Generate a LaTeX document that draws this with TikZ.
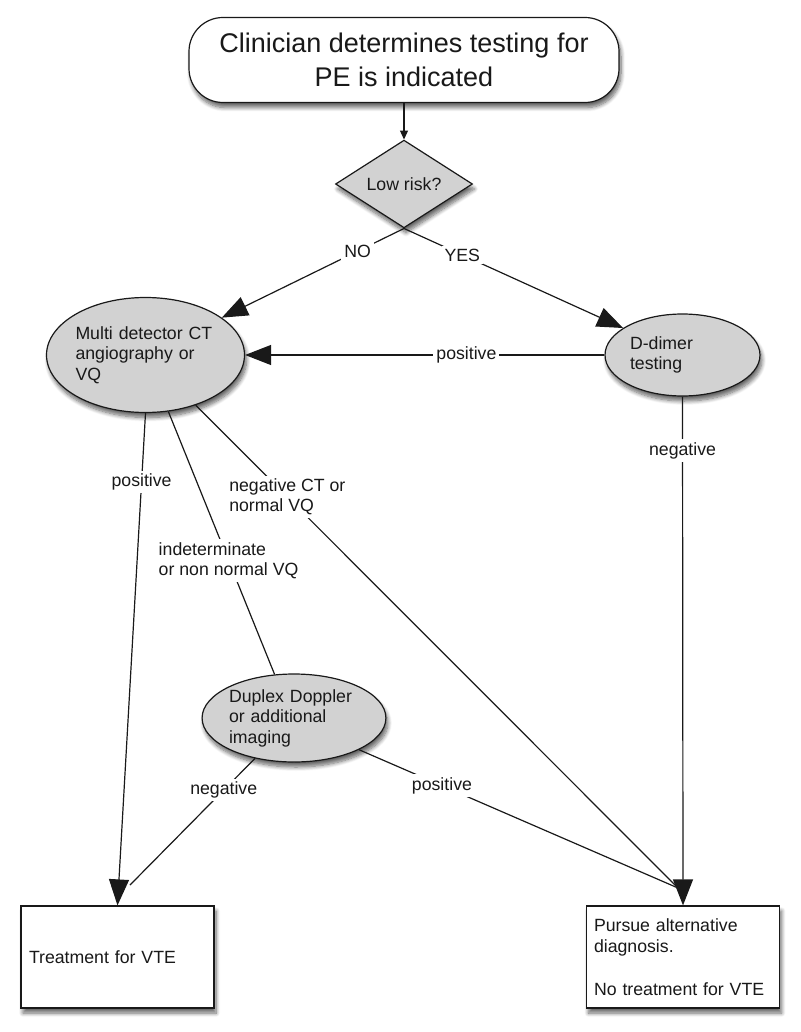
\documentclass[tikz,border=0pt]{standalone}
\usepackage{fontspec}
\setmainfont{Liberation Sans}
\usetikzlibrary{shapes.geometric,shadows.blur,arrows.meta}
\begin{document}
\begin{tikzpicture}[x=1pt,y=-1pt,
  txt/.style={text=black!90},
  shad/.style={blur shadow={shadow xshift=2pt,shadow yshift=-5pt,shadow blur steps=8,shadow opacity=60,shadow blur radius=4pt}},
  oval/.style={ellipse,draw=black!90,line width=1.2pt,fill=gray!35,shad,inner sep=0pt,align=left,txt,font=\fontsize{17.7}{20.5}\selectfont},
  boxnode/.style={rectangle,draw=black!90,line width=1.2pt,fill=white,shad,inner sep=0pt,align=left,txt,font=\fontsize{17.7}{21.5}\selectfont,minimum width=193pt,minimum height=102pt},
  lbl/.style={fill=white,inner sep=3pt,align=left,txt,font=\fontsize{17.7}{20.5}\selectfont},
  conn/.style={draw=black!90,line width=1.2pt},
  arr/.style={conn,-{Triangle[length=26pt,width=20pt]}},
  smallarr/.style={conn,-{Triangle[length=9pt,width=8pt]}}
]
\useasboundingbox (0,0) rectangle (800,1032);

\node[draw=black!90,line width=1.2pt,fill=white,shad,rounded corners=34pt,minimum width=430pt,minimum height=85pt,align=center,txt,font=\fontsize{27}{34}\selectfont]
  (start) at (404,60) {Clinician determines testing for\\PE is indicated};

\node[diamond,draw=black!90,line width=1.2pt,fill=gray!35,shad,inner sep=0pt,minimum width=137pt,minimum height=72pt,txt,font=\fontsize{17.7}{20.5}\selectfont]
  (low) at (404,184) {Low risk?};

\node[oval,minimum width=195pt,minimum height=115pt,text width=140pt] (multi) at (145.5,355) {Multi detector CT\\angiography or\\VQ};
\node[oval,minimum width=155pt,minimum height=82pt,text width=105pt] (dd) at (682.5,355) {D-dimer\\testing};
\node[oval,minimum width=182pt,minimum height=88pt,text width=130pt] (duplex) at (294,718) {Duplex Doppler\\or additional\\imaging};

\node[boxnode,text width=177pt] (treat) at (117.5,957) {Treatment for VTE};
\node[boxnode,text width=178pt] (pursue) at (683,957) {Pursue alternative\\diagnosis.\\[21.5pt]No treatment for VTE};

\coordinate (pjoin) at (678,888);
\coordinate (tjoin) at (130,885);

\draw[smallarr] (start.south) -- (low.north);
\draw[arr] (low.south) -- node[lbl,pos=0.254]{NO} (multi);
\draw[arr] (low.south) -- node[lbl,pos=0.266]{YES} (dd);
\draw[arr] (dd) -- node[lbl,pos=0.384]{positive} (multi);
\draw[arr] (dd.south) -- node[lbl,pos=0.106]{negative} (pursue.north);
\draw[arr] (multi.south) -- node[lbl,pos=0.14]{positive} (treat.north);
\draw[conn] (multi.-68) -- node[lbl,pos=0.567]{indeterminate\\or non normal VQ} (duplex.114);
\draw[conn] (multi.-45) -- node[lbl,pos=0.19]{negative CT or\\normal VQ} (pjoin);
\draw[conn] (duplex.-134) -- node[lbl,pos=0.25]{negative} (tjoin);
\draw[conn] (duplex.-26) -- node[lbl,pos=0.26]{positive} (pjoin);
\end{tikzpicture}
\end{document}
